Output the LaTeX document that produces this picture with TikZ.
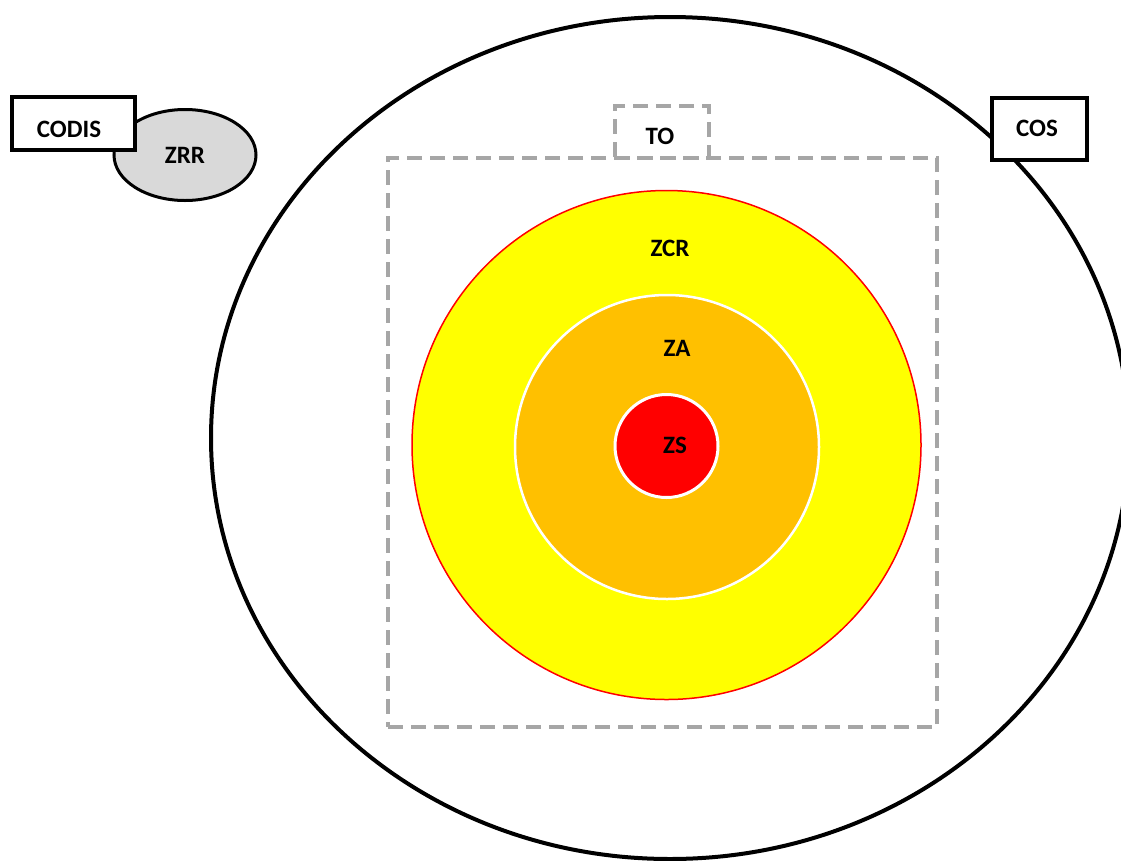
\documentclass[tikz,border=0pt]{standalone}
\usepackage{fontspec}
\setmainfont{Carlito}
\usetikzlibrary{shapes.geometric}
\definecolor{zayellow}{RGB}{255,255,0}
\definecolor{zaorange}{RGB}{255,192,0}
\definecolor{zsred}{RGB}{255,0,0}
\definecolor{dashgray}{RGB}{166,166,166}
\definecolor{zrrgray}{RGB}{217,217,217}
\tikzset{
  lbl/.style={font=\fontsize{25}{30}\selectfont\bfseries, text=black},
  blackbox/.style={draw=black, line width=4pt, fill=white, inner sep=0pt},
  grayrect/.style={draw=dashgray, line width=3.5pt, dash pattern=on 15pt off 8pt},
  disc/.style={circle, inner sep=0pt}
}
\begin{document}
\begin{tikzpicture}[x=1pt,y=-1pt]
\useasboundingbox (0,0) rectangle (1121,860);
\clip (0,0) rectangle (1121,860);
% big outer ellipse
\node[ellipse, draw=black, line width=4pt, fill=white, minimum width=918pt, minimum height=842pt, inner sep=0pt] (outer) at (670,438) {};
% dashed rectangle and TO box
\node[grayrect, minimum width=549pt, minimum height=569pt, inner sep=0pt] (torect) at (662.5,442.5) {};
\node[grayrect, minimum width=94pt, minimum height=52pt, inner sep=0pt] (tobox) at (662,132) {};
\node[lbl] (to) at (660,136) {TO};
% circles
\node[disc, fill=zayellow, draw=zsred, line width=1.5pt, minimum size=509pt] (zcr) at (666.5,445) {};
\node[disc, fill=zaorange, draw=white, line width=2.5pt, minimum size=304pt] (za) at (667,447) {};
\node[disc, fill=zsred, draw=white, line width=3pt, minimum size=103pt] (zs) at (666.5,446) {};
\node[lbl] (zcrl) at (670,248) {ZCR};
\node[lbl] (zal) at (677,348) {ZA};
\node[lbl] (zsl) at (675,445) {ZS};
% ZRR and CODIS
\node[ellipse, draw=black, line width=3pt, fill=zrrgray, minimum width=142pt, minimum height=91pt, inner sep=0pt] (zrr) at (185,155) {};
\node[lbl] (zrrl) at (185,155) {ZRR};
\node[blackbox, minimum width=123pt, minimum height=53pt] (codis) at (73.5,123.5) {};
\node[lbl] (codisl) at (69,129) {CODIS};
% COS
\node[blackbox, minimum width=95pt, minimum height=62pt] (cos) at (1039,128.5) {};
\node[lbl] (cosl) at (1037,128) {COS};
\end{tikzpicture}
\end{document}
